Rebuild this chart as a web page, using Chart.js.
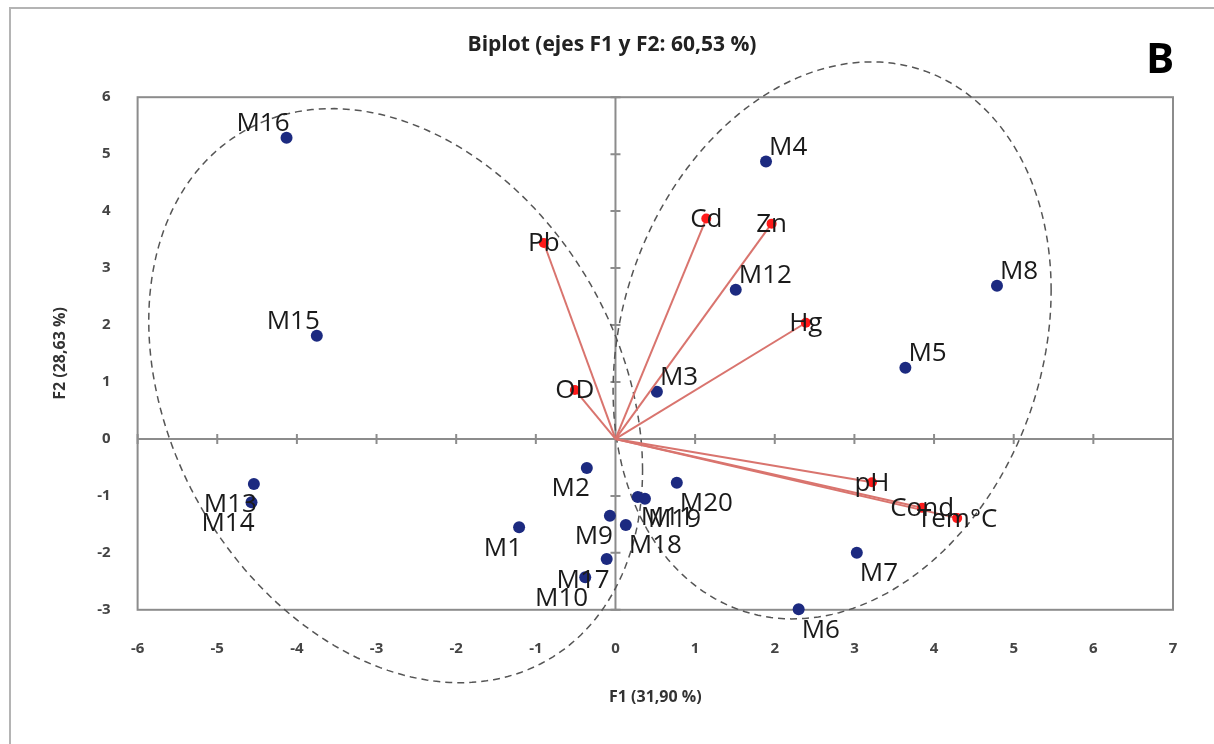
<!DOCTYPE html>
<html>
<head>
<meta charset="utf-8">
<title>Biplot</title>
<script src="https://cdn.jsdelivr.net/npm/chart.js@4.4.0/dist/chart.umd.min.js"></script>
<style>
  body { margin: 0; background: #fff; }
</style>
</head>
<body>
<canvas id="myChart" width="1214" height="744"></canvas>
<script>
// observations (scores on F1 / F2)
var obsNames = ['M1', 'M2', 'M3', 'M4', 'M5', 'M6', 'M7', 'M8', 'M9', 'M10',
                'M11', 'M12', 'M13', 'M14', 'M15', 'M16', 'M17', 'M18', 'M19', 'M20'];
var obsF1 = [-1.21, -0.36, 0.52, 1.89, 3.64, 2.30, 3.03, 4.79, -0.07, -0.38,
             0.28, 1.51, -4.54, -4.57, -3.75, -4.13, -0.11, 0.13, 0.37, 0.77];
var obsF2 = [-1.55, -0.51, 0.83, 4.87, 1.25, -2.99, -2.00, 2.69, -1.35, -2.43,
             -1.02, 2.62, -0.79, -1.11, 1.81, 5.29, -2.11, -1.51, -1.05, -0.77];

// variables (loadings on F1 / F2)
var varNames = ['Pb', 'Cd', 'Zn', 'Hg', 'OD', 'pH', 'Cond', 'Tem°C'];
var varF1 = [-0.90, 1.14, 1.96, 2.39, -0.51, 3.22, 3.85, 4.29];
var varF2 = [3.44, 3.87, 3.78, 2.04, 0.86, -0.76, -1.21, -1.39];

// group ellipses: centre, half range on each axis, correlation
var ellCx = [-2.76, 2.72];
var ellCy = [0.76, 1.73];
var ellRx = [3.10, 2.75];
var ellRy = [5.04, 4.89];
var ellRho = [-0.26, 0.18];

var FONT = 'Open Sans';

var datasets = [];
for (var i = 0; i < varNames.length; i++) {
    datasets.push({
        label: varNames[i],
        data: [{x: 0, y: 0}, {x: varF1[i], y: varF2[i]}],
        showLine: true,
        borderColor: '#d9746e',
        borderWidth: 2,
        pointRadius: [0, 5],
        pointBackgroundColor: '#ff1a1a',
        pointBorderWidth: 0,
        clip: false
    });
}
datasets.push({
    label: 'obs',
    data: obsF1.map(function (v, k) { return {x: v, y: obsF2[k]}; }),
    showLine: false,
    pointRadius: 6,
    pointBackgroundColor: '#1c2a80',
    pointBorderWidth: 0,
    clip: false
});

// frame, letter, plot box, axes through zero and ellipses
var decorPlugin = {
    id: 'decor',
    beforeDraw: function (chart) {
        var ctx = chart.ctx;
        ctx.save();
        ctx.fillStyle = '#fff';
        ctx.fillRect(0, 0, chart.width, chart.height);
        ctx.strokeStyle = '#b4b4b4';
        ctx.lineWidth = 2;
        ctx.strokeRect(10, 8, chart.width, chart.height);
        ctx.fillStyle = '#000';
        ctx.font = 'bold 42px ' + FONT;
        ctx.textAlign = 'center';
        ctx.textBaseline = 'middle';
        ctx.fillText('B', 1160, 61);
        ctx.restore();
    },
    beforeDatasetsDraw: function (chart) {
        var ctx = chart.ctx, a = chart.chartArea;
        var xs = chart.scales.x, ys = chart.scales.y;
        var x0 = xs.getPixelForValue(0), y0 = ys.getPixelForValue(0);
        ctx.save();
        ctx.strokeStyle = '#8c8c8c';
        ctx.lineWidth = 2;
        ctx.strokeRect(a.left, a.top, a.right - a.left, a.bottom - a.top);
        ctx.beginPath();
        ctx.moveTo(a.left, y0); ctx.lineTo(a.right, y0);
        ctx.moveTo(x0, a.top); ctx.lineTo(x0, a.bottom);
        xs.ticks.forEach(function (t) {
            var px = xs.getPixelForValue(t.value);
            ctx.moveTo(px, y0 - 5); ctx.lineTo(px, y0 + 5);
        });
        ys.ticks.forEach(function (t) {
            var py = ys.getPixelForValue(t.value);
            ctx.moveTo(x0 - 5, py); ctx.lineTo(x0 + 5, py);
        });
        ctx.stroke();

        ctx.strokeStyle = '#555';
        ctx.lineWidth = 1.5;
        ctx.setLineDash([7, 5]);
        for (var e = 0; e < ellCx.length; e++) {
            ctx.beginPath();
            var s = Math.sqrt(1 - ellRho[e] * ellRho[e]);
            for (var k = 0; k <= 200; k++) {
                var t = k / 200 * Math.PI * 2;
                var vx = ellCx[e] + ellRx[e] * Math.cos(t);
                var vy = ellCy[e] + ellRy[e] * (ellRho[e] * Math.cos(t) + s * Math.sin(t));
                var px = xs.getPixelForValue(vx), py = ys.getPixelForValue(vy);
                if (k == 0) ctx.moveTo(px, py); else ctx.lineTo(px, py);
            }
            ctx.stroke();
        }
        ctx.restore();
    },
    afterDatasetsDraw: function (chart) {
        var ctx = chart.ctx;
        ctx.save();
        ctx.fillStyle = '#1a1a1a';
        ctx.font = '26px ' + FONT;
        ctx.textBaseline = 'middle';
        // observation labels sit beside the dot, away from the origin
        var obsMeta = chart.getDatasetMeta(varNames.length);
        obsMeta.data.forEach(function (pt, k) {
            ctx.textAlign = obsF1[k] >= 0 ? 'left' : 'right';
            var dy = obsF2[k] >= 0 ? -14 : 21;
            ctx.fillText(obsNames[k], pt.x + 3, pt.y + dy);
        });
        // variable labels centred on the arrow tip
        ctx.textAlign = 'center';
        for (var i = 0; i < varNames.length; i++) {
            var tip = chart.getDatasetMeta(i).data[1];
            ctx.fillText(varNames[i], tip.x, tip.y + 1);
        }
        ctx.restore();
    }
};

var tickFont = {family: FONT, size: 15, weight: 'bold'};
var ctx = document.getElementById('myChart').getContext('2d');
var chart = new Chart(ctx, {
    type: 'scatter',
    data: {datasets: datasets},
    options: {
        responsive: false,
        animation: false,
        events: [],
        layout: {padding: {left: 51, right: 41, top: 0, bottom: 37}},
        plugins: {
            legend: {display: false},
            tooltip: {enabled: false},
            title: {
                display: true,
                text: 'Biplot (ejes F1 y F2: 60,53 %)',
                color: '#222',
                font: {family: FONT, size: 21, weight: 'bold'},
                padding: {top: 32, bottom: 40}
            }
        },
        scales: {
            x: {
                type: 'linear', min: -6, max: 7,
                grid: {display: false, drawTicks: false},
                border: {display: false},
                ticks: {stepSize: 1, padding: 30, color: '#444', font: tickFont},
                title: {display: true, text: 'F1 (31,90 %)', color: '#333',
                        font: {family: FONT, size: 16, weight: 'bold'}, padding: {top: 0, bottom: 0}}
            },
            y: {
                type: 'linear', min: -3, max: 6,
                grid: {display: false, drawTicks: false},
                border: {display: false},
                ticks: {stepSize: 1, padding: 27, color: '#444', font: tickFont},
                title: {display: true, text: 'F2 (28,63 %)', color: '#333',
                        font: {family: FONT, size: 16, weight: 'bold'}, padding: {top: 0, bottom: 0}}
            }
        }
    },
    plugins: [decorPlugin]
});
</script>
</body>
</html>
